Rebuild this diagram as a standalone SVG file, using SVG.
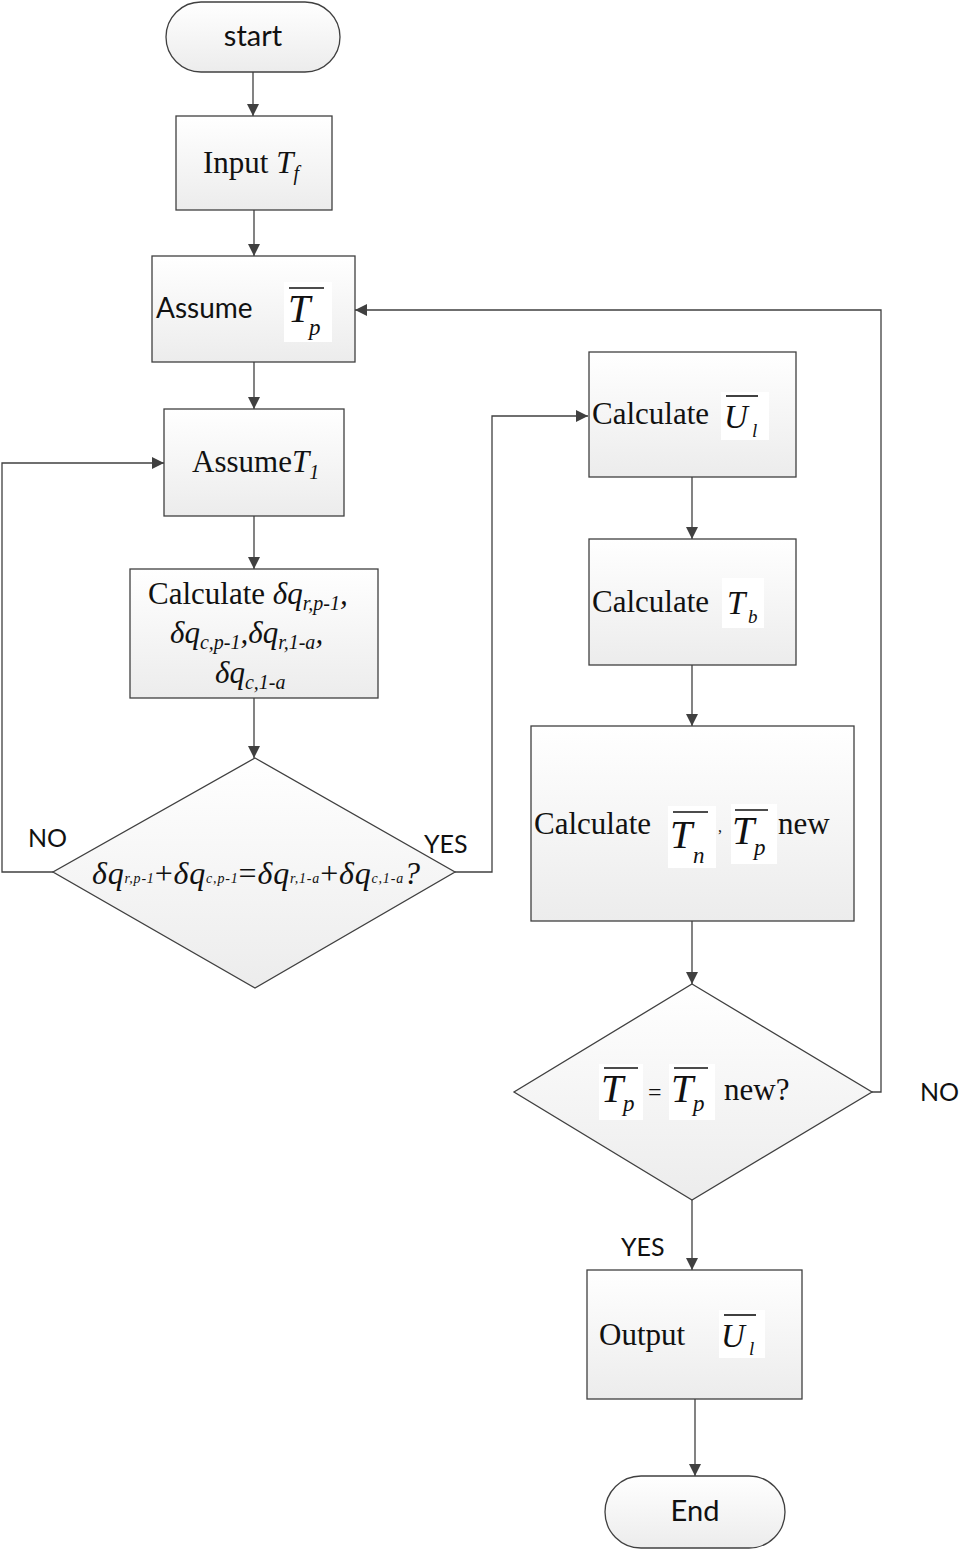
<svg xmlns="http://www.w3.org/2000/svg" width="965" height="1552" viewBox="0 0 965 1552">
<defs>
<linearGradient id="g" x1="0" y1="0" x2="0" y2="1">
<stop offset="0" stop-color="#ffffff"/>
<stop offset="1" stop-color="#ececec"/>
</linearGradient>
<marker id="ah" viewBox="0 0 12 12" refX="12" refY="6" markerWidth="12" markerHeight="12" markerUnits="userSpaceOnUse" orient="auto">
<path d="M0,0 L12,6 L0,12 z" fill="#404040"/>
</marker>
<style>
.n{fill:url(#g);stroke:#404040;stroke-width:1.3}
.c{fill:none;stroke:#404040;stroke-width:1.3;marker-end:url(#ah)}
.s{font-family:Lato,"Open Sans","Liberation Sans",sans-serif;font-size:28px;fill:#111}
.r{font-family:"Liberation Serif","DejaVu Serif",serif;font-size:31px;fill:#111}
.i{font-style:italic}
.w{fill:#fff}
.bar{stroke:#111;stroke-width:1.6}
.lab{font-family:Lato,"Open Sans","Liberation Sans",sans-serif;font-size:25px;fill:#111}
.T{font-size:40px}
.sub{font-size:23px}
</style>
</defs>
<g id="connectors">
<path class="c" d="M253,72 V116"/>
<path class="c" d="M254,210 V256"/>
<path class="c" d="M254,362 V409"/>
<path class="c" d="M254,516 V569"/>
<path class="c" d="M254,698 V758"/>
<path class="c" d="M53,872 H2 V463 H164"/>
<path class="c" d="M455,872 H492 V416 H588"/>
<path class="c" d="M692,477 V539"/>
<path class="c" d="M692,665 V726"/>
<path class="c" d="M692,921 V984"/>
<path class="c" d="M872,1092 H881 V310 H355"/>
<path class="c" d="M692,1200 V1270"/>
<path class="c" d="M695,1399 V1476"/>
<text class="lab" x="28" y="847">NO</text>
<text class="lab" x="424" y="853">YES</text>
<text class="lab" x="920" y="1101">NO</text>
<text class="lab" x="621" y="1256">YES</text>
</g>
<g id="start">
<rect class="n" x="166" y="2" width="174" height="70" rx="35"/>
<text class="s" x="253" y="46" text-anchor="middle" style="font-size:29px">start</text>
</g>
<g id="input">
<rect class="n" x="176" y="116" width="156" height="94"/>
<text class="r" x="203" y="173">Input <tspan class="i">T</tspan><tspan class="i" font-size="20" dy="7">f</tspan></text>
</g>
<g id="assumeTp">
<rect class="n" x="152" y="256" width="203" height="106"/>
<text class="s" x="156" y="318">Assume</text>
<rect class="w" x="284" y="282" width="48" height="60"/>
<line class="bar" x1="289" y1="288" x2="324" y2="288"/>
<text class="r i T" x="288" y="322">T</text>
<text class="r i sub" x="309" y="335">p</text>
</g>
<g id="assumeT1">
<rect class="n" x="164" y="409" width="180" height="107"/>
<text class="r" x="192" y="472">Assume<tspan class="i">T</tspan><tspan class="i" font-size="20" dy="7">1</tspan></text>
</g>
<g id="calcdq">
<rect class="n" x="130" y="569" width="248" height="129"/>
<text class="r" x="148" y="604">Calculate <tspan class="i">δq</tspan><tspan class="i" font-size="20" dy="6">r,p-1</tspan><tspan class="i" dy="-6">,</tspan></text>
<text class="r i" x="170" y="643">δq<tspan font-size="20" dy="6">c,p-1</tspan><tspan dy="-6">,δq</tspan><tspan font-size="20" dy="6">r,1-a</tspan><tspan dy="-6">,</tspan></text>
<text class="r i" x="215" y="683">δq<tspan font-size="20" dy="6">c,1-a</tspan></text>
</g>
<g id="check1">
<path class="n" d="M255,758 L455,872 L255,988 L53,872 z"/>
<text class="r i" x="92" y="884" style="font-size:32px" textLength="328" lengthAdjust="spacing">δq<tspan font-size="14" dy="-1">r,p-1</tspan><tspan dy="1" font-style="normal">+</tspan>δq<tspan font-size="14" dy="-1">c,p-1</tspan><tspan dy="1" font-style="normal">=</tspan>δq<tspan font-size="14" dy="-1">r,1-a</tspan><tspan dy="1" font-style="normal">+</tspan>δq<tspan font-size="14" dy="-1">c,1-a</tspan><tspan dy="1">?</tspan></text>
</g>
<g id="calcUl">
<rect class="n" x="589" y="352" width="207" height="125"/>
<text class="r" x="592" y="424">Calculate</text>
<rect class="w" x="721" y="392" width="48" height="48"/>
<line class="bar" x1="726" y1="396" x2="758" y2="396"/>
<text class="r i" x="724" y="428" style="font-size:33px">U</text>
<text class="r i" x="752" y="437" style="font-size:19px">l</text>
</g>
<g id="calcTb">
<rect class="n" x="589" y="539" width="207" height="126"/>
<text class="r" x="592" y="612">Calculate</text>
<rect class="w" x="722" y="578" width="42" height="50"/>
<text class="r i" x="727" y="614" style="font-size:33px">T</text>
<text class="r i" x="748" y="623" style="font-size:19px">b</text>
</g>
<g id="calcTnTp">
<rect class="n" x="531" y="726" width="323" height="195"/>
<text class="r" x="534" y="834">Calculate</text>
<rect class="w" x="668" y="806" width="48" height="62"/>
<line class="bar" x1="673" y1="812" x2="708" y2="812"/>
<text class="r i T" x="670" y="848">T</text>
<text class="r i sub" x="693" y="863">n</text>
<text class="r" x="718" y="832" style="font-size:16px">,</text>
<rect class="w" x="731" y="804" width="46" height="60"/>
<line class="bar" x1="735" y1="810" x2="768" y2="810"/>
<text class="r i T" x="732" y="844">T</text>
<text class="r i sub" x="754" y="855">p</text>
<text class="r" x="778" y="834">new</text>
</g>
<g id="check2">
<path class="n" d="M692,984 L872,1092 L692,1200 L514,1092 z"/>
<rect class="w" x="599" y="1064" width="44" height="56"/>
<line class="bar" x1="604" y1="1068" x2="638" y2="1068"/>
<text class="r i T" x="601" y="1102">T</text>
<text class="r i sub" x="623" y="1111">p</text>
<text class="r" x="648" y="1100" style="font-size:24px">=</text>
<rect class="w" x="669" y="1064" width="46" height="56"/>
<line class="bar" x1="674" y1="1068" x2="708" y2="1068"/>
<text class="r i T" x="671" y="1102">T</text>
<text class="r i sub" x="693" y="1111">p</text>
<text class="r" x="724" y="1100">new?</text>
</g>
<g id="output">
<rect class="n" x="587" y="1270" width="215" height="129"/>
<text class="r" x="599" y="1345">Output</text>
<rect class="w" x="719" y="1310" width="46" height="48"/>
<line class="bar" x1="724" y1="1315" x2="756" y2="1315"/>
<text class="r i" x="721" y="1347" style="font-size:33px">U</text>
<text class="r i" x="749" y="1355" style="font-size:19px">l</text>
</g>
<g id="end">
<rect class="n" x="605" y="1476" width="180" height="72" rx="36"/>
<text class="s" x="695" y="1521" text-anchor="middle" style="font-size:29px">End</text>
</g>
</svg>
